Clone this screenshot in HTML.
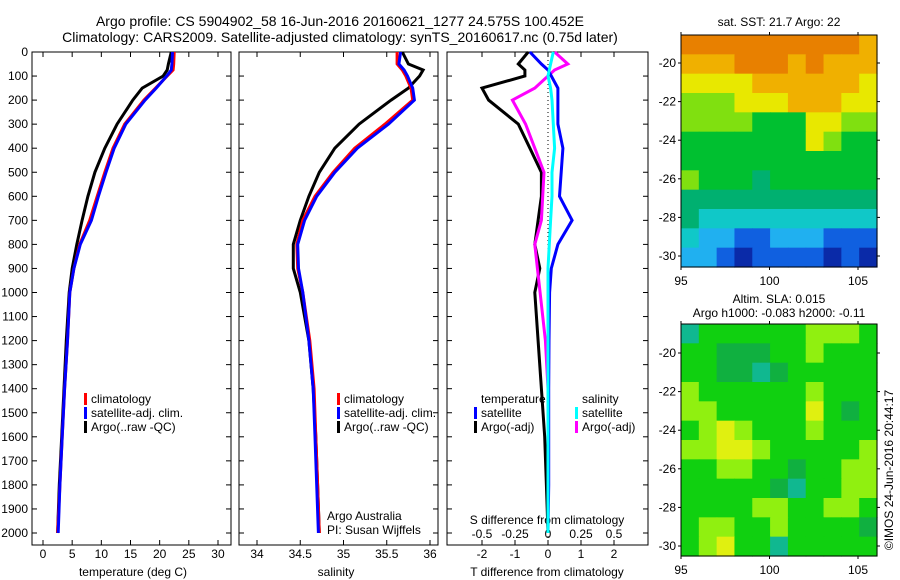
<!DOCTYPE html>
<html><head><meta charset="utf-8"><style>
body{margin:0;background:#fff;}
svg{display:block;font-family:"Liberation Sans",sans-serif;}
</style></head><body>
<svg id="c" width="900" height="580" xmlns="http://www.w3.org/2000/svg">
<text x="340" y="26" font-size="14" text-anchor="middle">Argo profile: CS 5904902_58 16-Jun-2016 20160621_1277 24.575S 100.452E</text>
<text x="340" y="42" font-size="14" text-anchor="middle">Climatology: CARS2009. Satellite-adjusted climatology: synTS_20160617.nc (0.75d later)</text>
<text x="779" y="26" font-size="12" text-anchor="middle">sat. SST: 21.7 Argo: 22</text>
<text x="779" y="303" font-size="12" text-anchor="middle">Altim. SLA: 0.015</text>
<text x="779" y="317" font-size="12" text-anchor="middle">Argo h1000: -0.083 h2000: -0.11</text>
<text transform="translate(893,470) rotate(-90)" font-size="12" text-anchor="middle">©IMOS 24-Jun-2016 20:44:17</text>
</svg>
<script>
// ---- data ----
const depthTicks=[0,100,200,300,400,500,600,700,800,900,1000,1100,1200,1300,1400,1500,1600,1700,1800,1900,2000];
const tempTicks=[0,5,10,15,20,25,30];
const salTicks=[34,34.5,35,35.5,36];
const tdiffTicks=[-2,-1,0,1,2];
const sdiffTicks=[-0.5,-0.25,0,0.25,0.5];
const sdiffTickLabels=["-0.5","-0.25","0","0.25","0.5"];
const depths=[0,50,75,100,150,200,300,400,500,600,700,800,900,1000,1200,1400,1600,1800,2000];
const tempClim=[22.5,22.4,22.3,21.3,19.3,17.3,14.0,12.0,10.6,9.3,8.0,6.3,5.3,4.6,4.2,3.7,3.3,2.9,2.5];
const tempSat=[22.2,22.1,22.0,21.2,19.4,17.5,14.2,12.2,10.8,9.5,8.3,6.4,5.3,4.6,4.2,3.7,3.3,2.9,2.6];
const tempArgo=[22.0,21.5,21.3,20.6,17.0,15.4,12.7,10.6,8.9,7.7,6.7,5.8,5.0,4.5,4.0,3.6,3.2,2.8,2.5];
const salClim=[35.62,35.62,35.68,35.72,35.78,35.8,35.48,35.13,34.88,34.67,34.53,34.46,34.47,34.53,34.61,34.66,34.68,34.7,34.72];
const salSat=[35.66,35.64,35.7,35.74,35.8,35.82,35.52,35.16,34.9,34.69,34.55,34.47,34.48,34.53,34.6,34.65,34.67,34.69,34.71];
const salArgo=[35.68,35.75,35.92,35.88,35.75,35.55,35.18,34.9,34.72,34.6,34.5,34.42,34.42,34.5,34.6,34.65,34.68,34.7,34.72];
const tdiffSat=[-0.55,-0.2,0.0,0.1,0.3,0.3,0.3,0.45,0.4,0.35,0.73,0.3,0.1,0.05,0.03,0.02,0.02,0.02,0.0];
const tdiffArgo=[-0.6,-0.9,-0.7,-0.7,-2.0,-1.8,-0.9,-0.55,-0.2,-0.2,-0.3,-0.4,-0.25,-0.4,-0.3,-0.2,-0.1,-0.05,0.0];
const sdiffSat=[0.04,0.02,0.01,0.0,0.02,0.03,0.04,0.05,0.03,0.03,0.02,0.01,0.0,0.0,0.0,0.0,0.0,0.0,0.0];
const sdiffArgo=[0.05,0.15,0.05,0.0,-0.1,-0.27,-0.17,-0.1,-0.03,-0.04,-0.05,-0.1,-0.08,-0.06,-0.02,0.0,0.0,0.0,0.0];
const lonTicks=[95,100,105];
const latTicks=[-20,-22,-24,-26,-28,-30];
const latTickLabels=["-20","-22","-24","-26","-28","-30"];
const sstGrid=[
[9,9,9,9,9,9,9,9,9,9,8],
[8,8,8,9,9,9,8,9,8,8,8],
[7,7,7,7,8,8,8,8,8,8,7],
[6,6,6,7,7,7,8,8,8,7,7],
[6,6,6,6,5,5,5,7,7,6,6],
[5,5,5,5,5,5,5,7,6,5,5],
[5,5,5,5,5,5,5,5,5,5,5],
[6,5,5,5,4,5,5,5,5,5,5],
[4,4,4,4,4,4,4,4,4,4,4],
[4,3,3,3,3,3,3,3,3,3,3],
[3,2,2,1,1,2,2,2,1,1,1],
[2,2,1,0,1,1,1,1,0,1,0]];
const slaGrid=[
[0,2,2,2,2,2,2,3,3,3,2],
[2,2,1,1,1,2,2,3,2,2,2],
[2,2,1,1,0,1,2,2,2,2,2],
[3,2,2,2,2,2,2,3,2,2,2],
[3,3,2,2,2,2,2,4,2,1,2],
[2,3,4,3,2,2,2,3,2,2,2],
[3,3,4,4,3,2,2,2,2,2,3],
[2,2,3,3,2,2,1,2,2,3,3],
[2,2,2,2,2,1,0,2,2,3,3],
[2,2,2,2,3,3,2,2,3,3,2],
[2,3,3,2,2,3,2,2,2,2,1],
[2,3,4,2,2,0,2,2,2,2,2]];
const sstColors=["#0a2aa8","#1060e0","#20b0f0","#10c8c8","#00b070","#00c030","#80e010","#e8e800","#f0b000","#e88000"];
const slaColors=["#10b890","#10b040","#10d010","#90f010","#e0f010"];
// ---- helpers ----
const svg=document.getElementById('c');
const NS="http://www.w3.org/2000/svg";
function mk(t,a,p){const e=document.createElementNS(NS,t);for(const k in a)e.setAttribute(k,a[k]);(p||svg).appendChild(e);return e;}
const yTop=52,yBot=545;
const yD=d=>yTop+d*0.2405;
function panel(x0,x1,name){
 const g=mk('g',{});
 
 
 mk('rect',{x:x0,y:yTop,width:x1-x0,height:yBot-yTop,fill:'none',stroke:'#000','stroke-width':1},g);
 return g;
}
function line(g,xs,xf,col,name,w){
 const pts=depths.map((d,i)=>xf(xs[i]).toFixed(1)+','+yD(d).toFixed(1)).join(' ');
 const p=mk('polyline',{points:pts,fill:'none',stroke:col,'stroke-width':w||3},g);
 
 
}
function xticks(g,ticks,labels,xf,y,x0,x1){
 ticks.forEach((t,i)=>{const x=xf(t);
  mk('line',{x1:x,y1:yBot,x2:x,y2:yBot-5,stroke:'#000'},g);
  mk('line',{x1:x,y1:yTop,x2:x,y2:yTop+5,stroke:'#000'},g);
  const tx=mk('text',{x:x,y:y,'font-size':12,'text-anchor':'middle'},g);tx.textContent=labels[i];
  
  
 });
}
function yticks(g,x0,x1,labels){
 depthTicks.forEach(d=>{const y=yD(d);
  mk('line',{x1:x0,y1:y,x2:x0+5,y2:y,stroke:'#000'},g);
  mk('line',{x1:x1,y1:y,x2:x1-5,y2:y,stroke:'#000'},g);
  if(labels){const t=mk('text',{x:x0-4,y:y+4,'font-size':12,'text-anchor':'end'},g);t.textContent=d;
   
   }
 });
}
function legend(g,x,y,items){
 items.forEach((it,i)=>{
  const yy=y+i*14;
  mk('rect',{x:x,y:yy-10,width:3,height:12,fill:it[0]},g);
  const t=mk('text',{x:x+7,y:yy,'font-size':12},g);t.textContent=it[1];
  
  
 });
}
function label(g,x,y,txt,name,anchor){const t=mk('text',{x:x,y:y,'font-size':12,'text-anchor':anchor||'middle'},g);t.textContent=txt;
 
 }
// panel 1 temperature
const xT=v=>43+v*5.833;
const g1=panel(32,231,'temperature-panel');
yticks(g1,32,231,true);
xticks(g1,tempTicks,tempTicks.map(String),xT,558);
line(g1,tempArgo,xT,'#000','argo-temperature-line');
line(g1,tempClim,xT,'#f00','climatology-temperature-line');
line(g1,tempSat,xT,'#00f','satellite-temperature-line');
legend(g1,84,403,[['#f00','climatology'],['#00f','satellite-adj. clim.'],['#000','Argo(..raw -QC)']]);
label(g1,133,576,'temperature (deg C)','temperature-axis-title');
// panel 2 salinity
const xS=v=>257+(v-34)*86.5;
const g2=panel(239,438,'salinity-panel');
yticks(g2,239,438,false);
xticks(g2,salTicks,salTicks.map(String),xS,558);
line(g2,salArgo,xS,'#000','argo-salinity-line');
line(g2,salClim,xS,'#f00','climatology-salinity-line');
line(g2,salSat,xS,'#00f','satellite-salinity-line');
legend(g2,337,403,[['#f00','climatology'],['#00f','satellite-adj. clim.'],['#000','Argo(..raw -QC)']]);
label(g2,327,520,'Argo Australia','credit-argo-australia','start');
label(g2,327,534,'PI: Susan Wijffels','credit-pi','start');
label(g2,336,576,'salinity','salinity-axis-title');
// panel 3 differences
const xTd=v=>548+v*33;
const xSd=v=>548+v*132;
const g3=panel(447,648,'difference-panel');
yticks(g3,447,648,false);
mk('line',{x1:548,y1:yTop,x2:548,y2:yBot,stroke:'#000','stroke-dasharray':'1,3'},g3);
xticks(g3,tdiffTicks,tdiffTicks.map(String),xTd,558);
sdiffTicks.forEach((t,i)=>label(g3,xSd(t),538,sdiffTickLabels[i],'s-diff-tick-label'));
label(g3,547,524,'S difference from climatology','s-diff-axis-title');
line(g3,tdiffArgo,xTd,'#000','argo-temperature-diff-line');
line(g3,sdiffArgo,xSd,'#f0f','argo-salinity-diff-line');
line(g3,tdiffSat,xTd,'#00f','satellite-temperature-diff-line');
line(g3,sdiffSat,xSd,'#0ff','satellite-salinity-diff-line');
label(g3,481,403,'temperature','legend-temperature-header','start');
label(g3,582,403,'salinity','legend-salinity-header','start');
legend(g3,474,417,[['#00f','satellite'],['#000','Argo(-adj)']]);
legend(g3,575,417,[['#0ff','satellite'],['#f0f','Argo(-adj)']]);
label(g3,547,576,'T difference from climatology','t-diff-axis-title');
// maps
function map(grid,colors,top,bot,lat20,lat30,name){
 const x0=681,x1=877;
 const xL=lon=>681+(lon-95)*17.7;
 const yL=lat=>lat20+(lat+20)*(lat30-lat20)/(-10);
 const g=mk('g',{});
 
 
 const cw=(x1-x0)/grid[0].length,ch=(bot-top)/grid.length;
 grid.forEach((row,r)=>row.forEach((v,c)=>{
  const cell=mk('rect',{x:x0+c*cw,y:top+r*ch,width:cw+0.6,height:ch+0.6,fill:colors[v]},g);
  
  
 }));
 mk('rect',{x:x0,y:top,width:x1-x0,height:bot-top,fill:'none',stroke:'#000'},g);
 lonTicks.forEach(l=>{const x=xL(l);
  mk('line',{x1:x,y1:bot,x2:x,y2:bot+3,stroke:'#000'},g);
  mk('line',{x1:x,y1:top,x2:x,y2:top-3,stroke:'#000'},g);
  label(g,x,bot+18,String(l),'lon-tick-label');});
 latTicks.forEach((l,i)=>{const y=yL(l);
  mk('line',{x1:x0,y1:y,x2:x0-3,y2:y,stroke:'#000'},g);
  mk('line',{x1:x1,y1:y,x2:x1+3,y2:y,stroke:'#000'},g);
  label(g,x0-5,y+4,latTickLabels[i],'lat-tick-label','end');});
}
map(sstGrid,sstColors,35,267,63,256,'sst-map');
map(slaGrid,slaColors,324,556,353,546,'sla-map');
</script>
</body></html>
